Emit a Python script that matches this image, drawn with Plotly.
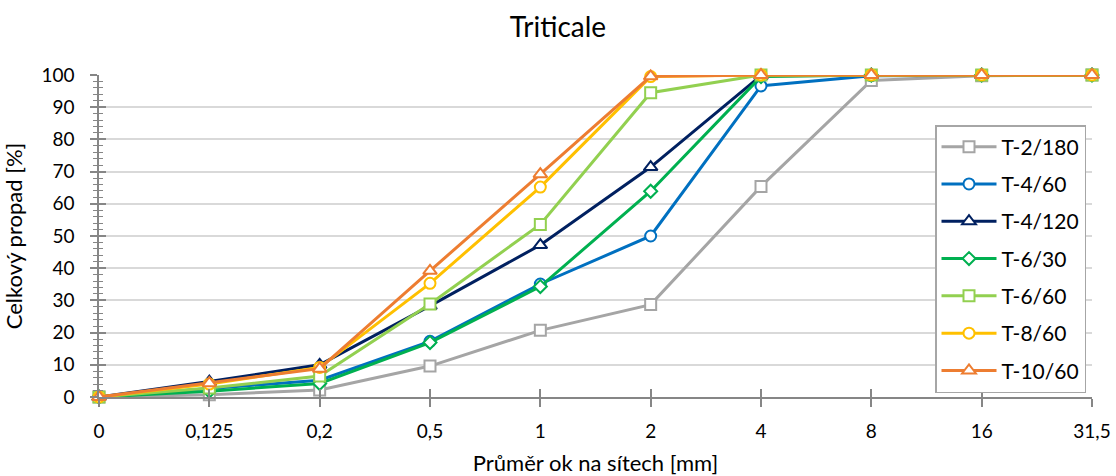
import plotly.graph_objects as go

categories = ["0", "0,125", "0,2", "0,5", "1", "2", "4", "8", "16", "31,5"]
series_names = ["T-2/180", "T-4/60", "T-4/120", "T-6/30", "T-6/60", "T-8/60", "T-10/60"]
t2_180 = [0, 0.7, 2.2, 9.6, 20.7, 28.7, 65.4, 98.3, 99.8, 100]
t4_60 = [0, 2.5, 5.2, 17.3, 35.1, 50.0, 96.6, 99.8, 100, 100]
t4_120 = [0, 4.8, 10.0, 28.3, 47.2, 71.4, 99.8, 100, 100, 100]
t6_30 = [0, 1.8, 4.2, 16.9, 34.3, 63.9, 99.5, 100, 100, 100]
t6_60 = [0, 2.8, 6.5, 28.9, 53.6, 94.5, 100, 100, 100, 100]
t8_60 = [0, 4.0, 9.2, 35.3, 65.2, 99.5, 100, 100, 100, 100]
t10_60 = [0, 4.3, 8.8, 39.2, 69.2, 99.6, 100, 100, 100, 100]
values = [t2_180, t4_60, t4_120, t6_30, t6_60, t8_60, t10_60]

colors = ["#A5A5A5", "#0070C0", "#002060", "#00B050", "#92D050", "#FFC000", "#ED7D31"]
symbols = ["square", "circle", "triangle-up", "diamond",
           "square", "circle", "triangle-up"]
msizes = [11, 11, 12, 10, 11, 11, 12]

FONT = "Lato"
AX = "#868686"

x = list(range(len(categories)))
fig = go.Figure()

# invisible helper trace on the overlay axes so that their (inner) tick marks are drawn
fig.add_trace(go.Scatter(x=x, y=t2_180, xaxis="x2", yaxis="y2", mode="markers",
                         marker=dict(opacity=0, size=1), showlegend=False,
                         hoverinfo="skip"))

for i, (name, vals) in enumerate(zip(series_names, values)):
    fig.add_trace(go.Scatter(
        x=x, y=vals, name=name, mode="lines+markers",
        legendgroup=name, cliponaxis=False,
        line=dict(color=colors[i], width=3),
        marker=dict(symbol=symbols[i], size=msizes[i], color="white",
                    line=dict(color=colors[i], width=2)),
    ))

fig.update_layout(
    width=1116, height=476,
    margin=dict(l=99, r=24, t=75, b=79),
    paper_bgcolor="white", plot_bgcolor="white",
    font=dict(family=FONT, size=19, color="#000000"),
    title=dict(text="Triticale", x=0.5, xanchor="center", y=1 - 27 / 476,
               yanchor="middle", font=dict(size=28, family=FONT)),
    legend=dict(x=(935 - 99) / 993, y=(397 - 125) / 322, xanchor="left", yanchor="top",
                bordercolor="#A6A6A6", borderwidth=1.5, bgcolor="white",
                font=dict(size=21, family=FONT), tracegroupgap=7, itemwidth=55),
    xaxis=dict(range=[0, 9], tickmode="array", tickvals=x, ticktext=categories,
               automargin=False,
               showgrid=False, zeroline=False, showline=True, linecolor=AX, linewidth=1.5,
               ticks="outside", ticklen=8, tickcolor=AX, tickwidth=1.5,
               ticklabelstandoff=8, tickfont=dict(size=19),
               title=dict(text="Průměr ok na sítech [mm]", standoff=23, font=dict(size=22))),
    yaxis=dict(range=[0, 100], dtick=10, showgrid=True, gridcolor="#D9D9D9", gridwidth=1.5,
               automargin=False,
               zeroline=False, showline=True, linecolor=AX, linewidth=1.5,
               ticks="outside", ticklen=7, tickcolor=AX, tickwidth=1.5,
               ticklabelstandoff=12, tickfont=dict(size=19),
               minor=dict(dtick=2, ticks="outside", ticklen=4, tickcolor=AX, tickwidth=1.2, showgrid=False),
               title=dict(text="Celkový propad [%]", standoff=19, font=dict(size=22))),
    xaxis2=dict(overlaying="x", anchor="y2", side="bottom", range=[0, 9], tickmode="array",
                tickvals=x, showticklabels=False, showgrid=False, zeroline=False,
                automargin=False,
                ticks="inside", ticklen=8, tickcolor=AX, tickwidth=1.5, showline=False),
    yaxis2=dict(overlaying="y", anchor="x2", side="left", range=[0, 100], dtick=10,
                showticklabels=False, showgrid=False, zeroline=False,
                automargin=False,
                ticks="inside", ticklen=7, tickcolor=AX, tickwidth=1.5, showline=False,
                minor=dict(dtick=2, ticks="inside", ticklen=4, tickcolor=AX, tickwidth=1.2, showgrid=False)),
)
fig.write_html("out.html")
